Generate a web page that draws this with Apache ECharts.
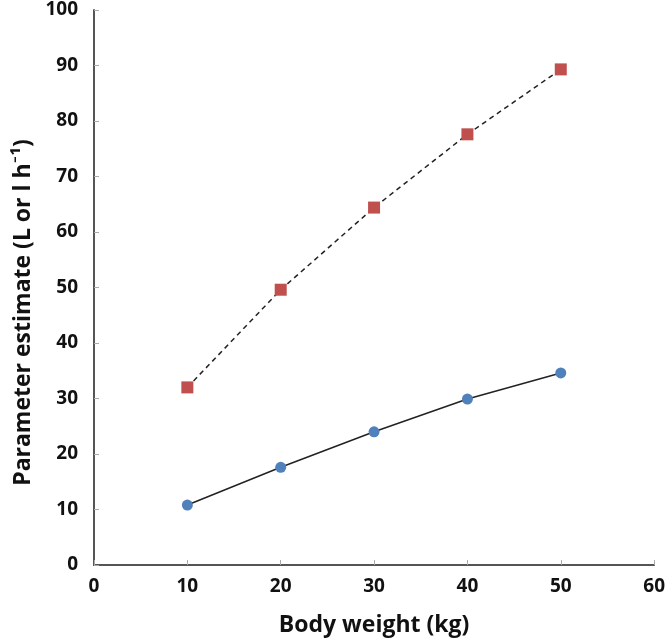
<!DOCTYPE html>
<html><head><meta charset="utf-8">
<script src="https://cdn.jsdelivr.net/npm/echarts@6/dist/echarts.min.js"></script>
<style>html,body{margin:0;padding:0;background:#fff}#c{width:668px;height:642px}</style>
</head><body><div id="c"></div>
<script>
const bodyWeight = [10, 20, 30, 40, 50];
const volumeValues = [32.0, 49.6, 64.4, 77.6, 89.3];
const clearanceValues = [10.8, 17.6, 24.0, 29.9, 34.6];
const xAxisTitle = 'Body weight (kg)';
const yAxisTitle = 'Parameter estimate (L or l h⁻¹)';

const chart = echarts.init(document.getElementById('c'));
const font = '"Open Sans", Lato, sans-serif';
chart.setOption({
  animation: false,
  grid: {left: 94, right: 11, top: 10, bottom: 76},
  xAxis: {
    type: 'value', min: 0, max: 60, interval: 10,
    name: xAxisTitle, nameLocation: 'middle', nameGap: 49,
    nameTextStyle: {fontFamily: font, fontWeight: 'bold', fontSize: 23, color: '#111'},
    axisLine: {lineStyle: {color: '#555', width: 2}},
    axisTick: {inside: true, length: 5, lineStyle: {color: '#aaa', width: 1}},
    axisLabel: {fontFamily: font, fontWeight: 'bold', fontSize: 19, color: '#111', margin: 12},
    splitLine: {show: false}
  },
  yAxis: {
    type: 'value', min: 0, max: 100, interval: 10,
    name: yAxisTitle, nameLocation: 'middle', nameGap: 55,
    nameTextStyle: {fontFamily: font, fontWeight: 'bold', fontSize: 23, color: '#111', padding: [0, 50, 0, 0]},
    axisLine: {show: true, lineStyle: {color: '#555', width: 2}},
    axisTick: {show: true, inside: true, length: 5, lineStyle: {color: '#aaa', width: 1}},
    axisLabel: {fontFamily: font, fontWeight: 'bold', fontSize: 19, color: '#111', margin: 16},
    splitLine: {show: false}
  },
  series: [
    {
      type: 'line', data: bodyWeight.map((x, i) => [x, volumeValues[i]]),
      symbol: 'rect', symbolSize: 12,
      itemStyle: {color: '#c0504d'},
      lineStyle: {color: '#222', width: 1.5, type: [5, 4]}
    },
    {
      type: 'line', data: bodyWeight.map((x, i) => [x, clearanceValues[i]]),
      symbol: 'circle', symbolSize: 11,
      itemStyle: {color: '#4f81bd'},
      lineStyle: {color: '#222', width: 1.5}
    }
  ]
});
</script></body></html>
